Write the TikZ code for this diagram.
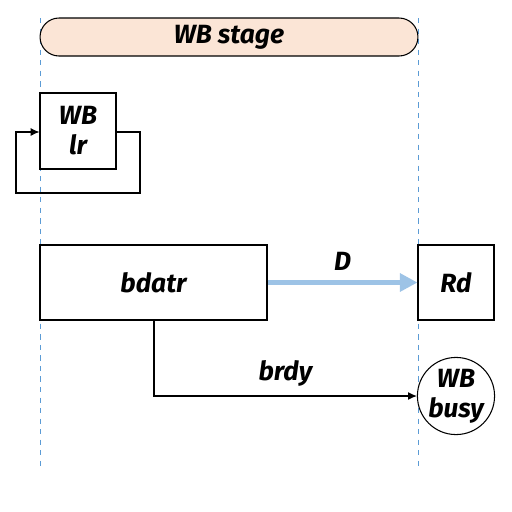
\documentclass[tikz,border=0pt]{standalone}
\usepackage{fontspec}
\setmainfont{Fira Sans}
\usetikzlibrary{arrows.meta}
\definecolor{stagefill}{HTML}{FBE5D6}
\definecolor{laneblue}{HTML}{5B9BD5}
\definecolor{busblue}{HTML}{9DC3E6}
\tikzset{
	lbl/.style={font=\fontsize{15}{17}\selectfont\bfseries\itshape, align=center, inner sep=0pt},
	blk/.style={draw, line width=0.6pt, lbl},
	sig/.style={line width=0.6pt, -{Latex[length=5pt,width=4.5pt]}}
}
\begin{document}
\begin{tikzpicture}[x=0.02cm, y=-0.02cm]
		\useasboundingbox (0,0) rectangle (512,512);

		\coordinate (t1) at (40,18);
		\coordinate (b1) at (40,470);
		\coordinate (t2) at (418,18);
		\coordinate (b2) at (418,470);
		\draw [laneblue, dashed, line width=0.5pt](t1) -- (b1);
		\draw [laneblue, dashed, line width=0.5pt](t2) -- (b2);

		\node (stage)[blk, fill=stagefill, rounded corners=0.38cm, minimum width=7.56cm, minimum height=0.76cm] at (229,37) {WB stage};

		\node (lr)[blk, fill=white, minimum width=1.52cm, minimum height=1.52cm] at (78,131) {WB\\lr};

		\node (bdatr)[blk, minimum width=4.54cm, minimum height=1.5cm] at (153.5,282.5) {bdatr};
		\node (rd)[blk, fill=white, minimum width=1.52cm, minimum height=1.5cm] at (456,282.5) {Rd};

		\node (busy)[blk, circle, fill=white, minimum size=1.52cm] at (456,396) {WB\\busy};

		\coordinate (c1) at (140,132);
		\coordinate (c2) at (140,193);
		\coordinate (c3) at (16,193);
		\coordinate (c4) at (16,132);
		\draw [sig](lr.east |- c1) -- (c1) -- (c2) -- (c3) -- (c4) -- (lr.west |- c4);

		\draw [busblue, line width=3.4pt, -{Triangle[length=10pt,width=10pt]}](bdatr.east) to node (l1)[lbl, black, above=5pt, midway] {D} (rd.west);

		\coordinate (c5) at (154,396);
		\draw [sig](bdatr.south -| c5) -- (c5) to node (l2)[lbl, above=5pt, midway] {brdy} (busy.west);
	\end{tikzpicture}
\end{document}
